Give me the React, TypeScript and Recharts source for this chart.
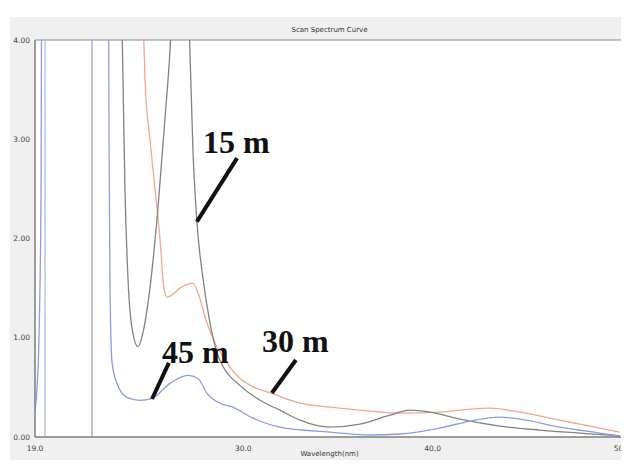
import React from 'react';
import {
    LineChart,
    Line,
    XAxis,
    YAxis,
    ReferenceArea,
    ReferenceLine,
    ReferenceDot,
} from 'recharts';

// 15 m (grey)
const wlGrey = [23.49, 23.59, 23.75, 23.91, 24.12, 24.44, 24.70, 25.07, 25.49, 25.86, 26.13, 26.39, 26.71, 27.03, 27.18, 27.34, 27.55, 27.87, 28.24, 28.61, 28.93, 29.82, 30.88, 31.94, 32.99, 34.58, 36.16, 37.74, 38.80, 39.86, 41.44, 43.55, 45.66, 47.78, 49.89];
const absGrey = [6, 4.2, 2.5, 1.6, 1.1, 0.91, 1.05, 1.5, 2.3, 3.2, 3.9, 5, 7, 5, 3.9, 2.9, 2.17, 1.6, 1.15, 0.85, 0.71, 0.52, 0.37, 0.27, 0.17, 0.10, 0.13, 0.22, 0.27, 0.25, 0.18, 0.11, 0.07, 0.04, 0.01];

// 30 m (orange)
const wlOrange = [24.70, 24.81, 25.07, 25.34, 25.60, 25.81, 25.97, 26.23, 26.66, 27.08, 27.34, 27.61, 28.08, 28.50, 28.93, 29.56, 30.19, 31.51, 32.83, 34.58, 36.16, 38.27, 40.38, 41.97, 43.02, 44.61, 46.72, 48.83, 49.89];
const absOrange = [4.3, 3.6, 3.0, 2.5, 2.0, 1.5, 1.41, 1.43, 1.5, 1.54, 1.55, 1.45, 1.15, 0.95, 0.81, 0.64, 0.54, 0.44, 0.35, 0.30, 0.27, 0.24, 0.25, 0.28, 0.29, 0.25, 0.17, 0.09, 0.05];

// 45 m (blue)
const wlBlue = [19.0, 19.11, 19.21, 19.32, 19.37, 22.85, 22.91, 22.96, 23.07, 23.33, 23.86, 24.54, 25.18, 26.13, 27.08, 27.61, 28.08, 28.77, 29.45, 30.51, 31.94, 34.58, 36.69, 38.27, 40.38, 41.97, 43.55, 44.61, 46.72, 48.83, 49.89];
const absBlue = [0.27, 0.5, 1.0, 2.5, 6, 6, 3.0, 1.5, 0.75, 0.54, 0.40, 0.37, 0.39, 0.54, 0.62, 0.59, 0.44, 0.34, 0.30, 0.19, 0.10, 0.05, 0.02, 0.03, 0.09, 0.16, 0.20, 0.18, 0.10, 0.04, 0.01];

// vertical traces at the left edge
const markerWl = [19.53, 22.01];

const xTicks = [19, 30, 40, 50];
const yTicks = [0, 1, 2, 3, 4];

const labels = ['15 m', '30 m', '45 m'];
const labelAt = [
    { x: 27.87, y: 2.86 },
    { x: 30.99, y: 0.856 },
    { x: 25.71, y: 0.746 },
];
const pointers = [
    [{ x: 29.67, y: 2.81 }, { x: 27.55, y: 2.17 }],
    [{ x: 32.78, y: 0.776 }, { x: 31.51, y: 0.443 }],
    [{ x: 26.07, y: 0.746 }, { x: 25.18, y: 0.383 }],
];

const zip = (xs: number[], ys: number[]) => xs.map((x, i) => ({ x, y: ys[i] }));

const tickStyle = { fill: '#444', fontSize: 7.5, fontFamily: 'DejaVu Sans' };
const captionStyle: React.CSSProperties = {
    position: 'absolute',
    left: 0,
    width: 629,
    textAlign: 'center',
    paddingLeft: 30,
    boxSizing: 'border-box',
    fontFamily: 'DejaVu Sans',
    fontSize: 7,
    lineHeight: '9px',
    color: '#333',
    zIndex: 2,
};

export default function App() {
    return (
        <div style={{ position: 'relative', width: 629, height: 468, margin: -8, background: '#fff', overflow: 'hidden' }}>
            <div style={{ position: 'absolute', left: 10, top: 17, right: 0, bottom: 0, background: '#f0f0f0' }} />
            <LineChart
                width={629}
                height={468}
                margin={{ top: 40, right: 7, bottom: 0, left: 0 }}
                style={{ position: 'absolute', left: 0, top: 0 }}
            >
                <XAxis
                    dataKey="x"
                    type="number"
                    domain={[19, 50]}
                    ticks={xTicks}
                    allowDataOverflow
                    height={31}
                    tickSize={0}
                    tickMargin={9}
                    axisLine={{ stroke: '#777' }}
                    tick={tickStyle}
                    tickFormatter={(v: number) => v.toFixed(1)}
                />
                <YAxis
                    type="number"
                    domain={[0, 4]}
                    ticks={yTicks}
                    allowDataOverflow
                    width={35}
                    tickSize={0}
                    tickMargin={5}
                    axisLine={{ stroke: '#777' }}
                    tick={tickStyle}
                    tickFormatter={(v: number) => v.toFixed(2)}
                />
                <ReferenceArea x1={19} x2={50} y1={0} y2={4} fill="#ffffff" fillOpacity={1} stroke="#8a8a8a" />
                {markerWl.map((w, i) => (
                    <ReferenceLine key={i} x={w} stroke={i === 0 ? '#a9b3ec' : '#8f9bd9'} strokeWidth={1.2} />
                ))}
                <Line data={zip(wlOrange, absOrange)} dataKey="y" type="monotone" stroke="#f3a88c" strokeWidth={1.3} dot={false} isAnimationActive={false} />
                <Line data={zip(wlGrey, absGrey)} dataKey="y" type="monotone" stroke="#828282" strokeWidth={1.3} dot={false} isAnimationActive={false} />
                <Line data={zip(wlBlue, absBlue)} dataKey="y" type="monotone" stroke="#8b9be8" strokeWidth={1.3} dot={false} isAnimationActive={false} />
                {pointers.map((seg, i) => (
                    <ReferenceLine key={'p' + i} segment={seg} stroke="#111" strokeWidth={4} />
                ))}
                {labels.map((t, i) => (
                    <ReferenceDot
                        key={'l' + i}
                        x={labelAt[i].x}
                        y={labelAt[i].y}
                        r={0}
                        shape={(p: any) => (
                            <text
                                x={p.cx}
                                y={p.cy}
                                fontFamily="Liberation Serif"
                                fontWeight="bold"
                                fontSize={32}
                                fill="#111"
                            >
                                {t}
                            </text>
                        )}
                    />
                ))}
            </LineChart>
            <div style={{ ...captionStyle, top: 26 }}>Scan Spectrum Curve</div>
            <div style={{ ...captionStyle, top: 450 }}>Wavelength(nm)</div>
        </div>
    );
}
